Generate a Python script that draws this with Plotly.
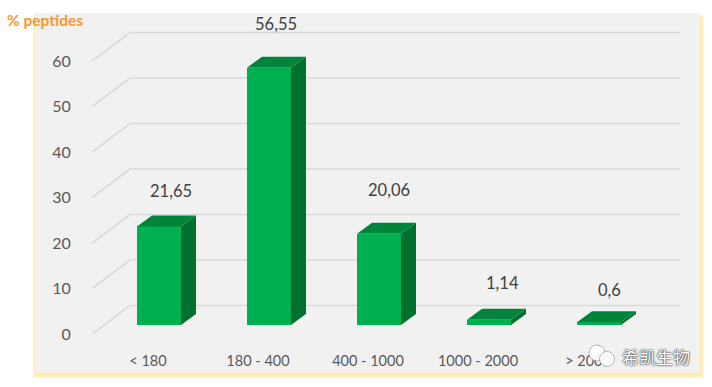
import plotly.graph_objects as go

categories = ["< 180", "180 - 400", "400 - 1000", "1000 - 2000", "> 2000"]
values = [21.65, 56.55, 20.06, 1.14, 0.6]
y_ticks = [0, 10, 20, 30, 40, 50, 60]

W, H = 712, 387
L, R, T, B = 92, 680, 14, 346          # plot box in pixels
PX_PER_CAT = 110.0
PX_PER_UNIT = 4.55
X0_PX = 159.0                          # pixel of the first category
Y0_FRONT = 334.0                       # pixel of value 0 on the axis plane
Y0_BAR = 325.0                         # pixel of value 0 on the bar plane
BAR_W = 0.4
DX = 15 / PX_PER_CAT                   # bar depth
DY = 11 / PX_PER_UNIT
WALL_DX = 38 / PX_PER_CAT              # floor depth
WALL_DY = 28.5 / PX_PER_UNIT

x_range = [(L - X0_PX) / PX_PER_CAT, (R - X0_PX) / PX_PER_CAT]
y_range = [(Y0_FRONT - B) / PX_PER_UNIT, (Y0_FRONT - T) / PX_PER_UNIT]
y2_range = [(Y0_BAR - B) / PX_PER_UNIT, (Y0_BAR - T) / PX_PER_UNIT]

FRONT, SIDE, TOP = "#00b050", "#00702f", "#00843b"
GRID, TEXT = "#d9d9d9", "#595959"
FONT = "Lato, 'Noto Sans', sans-serif"

# label nudges in pixels (right, up) from the top-right of each bar
label_dx = [-10, -15, -12, -9, -12]
label_dy = [35, 44, 44, 37, 32]

fig = go.Figure()

# slanted floor + wall gridlines
for v in y_ticks:
    fig.add_trace(go.Scatter(
        x=[x_range[0], x_range[0] + WALL_DX, x_range[1]],
        y=[v, v + WALL_DY, v + WALL_DY],
        mode="lines", line=dict(color=GRID, width=1.6),
        hoverinfo="skip", showlegend=False, cliponaxis=False))

# front faces
fig.add_trace(go.Bar(
    x=list(range(len(values))), y=values, width=BAR_W, yaxis="y2",
    marker=dict(color=FRONT, line=dict(width=0)), showlegend=False))

# side and top faces, plus value labels
for i, v in enumerate(values):
    xl, xr = i - BAR_W / 2, i + BAR_W / 2
    fig.add_trace(go.Scatter(
        x=[xr, xr + DX, xr + DX, xr, xr], y=[0, DY, v + DY, v, 0],
        yaxis="y2", mode="lines", fill="toself", fillcolor=SIDE,
        line=dict(width=0), hoverinfo="skip", showlegend=False))
    fig.add_trace(go.Scatter(
        x=[xl, xl + DX, xr + DX, xr, xl], y=[v, v + DY, v + DY, v, v],
        yaxis="y2", mode="lines", fill="toself", fillcolor=TOP,
        line=dict(width=0), hoverinfo="skip", showlegend=False))
    fig.add_annotation(
        x=xr, y=v, yref="y2", xref="x", text=str(v).replace(".", ","),
        showarrow=False, xshift=label_dx[i], yshift=label_dy[i],
        font=dict(family=FONT, size=16.5, color="#404040"))


def px(x):
    return (x - L) / (R - L)


def py(y):
    return (B - y) / (B - T)


def rect(x0, y0, x1, y1, color, **kw):
    return dict(type="rect", xref="paper", yref="paper", layer="below",
                x0=px(x0), x1=px(x1), y0=py(y0), y1=py(y1),
                fillcolor=color, line=dict(width=0), **kw)


shapes = [
    rect(33, 18, 705, 379, "rgba(255,240,190,0.15)"),
    rect(33, 17, 704, 378, "rgba(255,236,175,0.30)"),
    rect(33.5, 16, 703, 377, "rgba(255,232,160,0.50)"),
    rect(34, 15, 702, 375.5, "#ffeab0"),
    rect(35, 13, 700, 372.5, "#f1f1f1"),
]
# watermark icon
for cx, cy, r in [(597, 353, 8), (607, 359, 7.5)]:
    shapes.append(dict(type="circle", xref="paper", yref="paper", layer="above",
                       x0=px(cx - r), x1=px(cx + r), y0=py(cy - r), y1=py(cy + r),
                       fillcolor="rgba(255,255,255,0.92)",
                       line=dict(color="#8a8a8a", width=0.6)))

fig.add_annotation(xref="paper", yref="paper", x=px(5), y=py(20),
                   xanchor="left", yanchor="middle",
                   text="<b>% peptides</b>", showarrow=False,
                   font=dict(family=FONT, size=15.5, color="#f7982a"))
fig.add_annotation(xref="paper", yref="paper", x=px(656), y=py(356),
                   xanchor="center", yanchor="middle",
                   text="希凯生物", showarrow=False,
                   font=dict(family="'Noto Sans CJK SC'", size=17, color="#ffffff",
                             shadow="0 0 2px #222222, 0 0 1px #222222"))

fig.update_layout(
    width=W, height=H, autosize=False, bargap=0,
    margin=dict(l=L, r=W - R, t=T, b=H - B, pad=0),
    paper_bgcolor="#ffffff", plot_bgcolor="rgba(0,0,0,0)",
    shapes=shapes,
    xaxis=dict(range=x_range, tickmode="array",
               tickvals=[i - 0.1 for i in range(len(categories))],
               ticktext=categories, showgrid=False, zeroline=False, showline=False,
               ticks="outside", ticklen=2, tickcolor="rgba(0,0,0,0)",
               tickfont=dict(family=FONT, size=14.5, color=TEXT)),
    yaxis=dict(range=y_range, tickmode="array", tickvals=y_ticks,
               showgrid=False, zeroline=False, showline=False,
               ticks="outside", ticklen=17, tickcolor="rgba(0,0,0,0)",
               tickfont=dict(family=FONT, size=16, color=TEXT)),
    yaxis2=dict(range=y2_range, overlaying="y", visible=False),
)

fig.write_html("out.html", config=dict(displayModeBar=False),
               post_script="document.body.style.margin='0';document.body.style.overflow='hidden';")
